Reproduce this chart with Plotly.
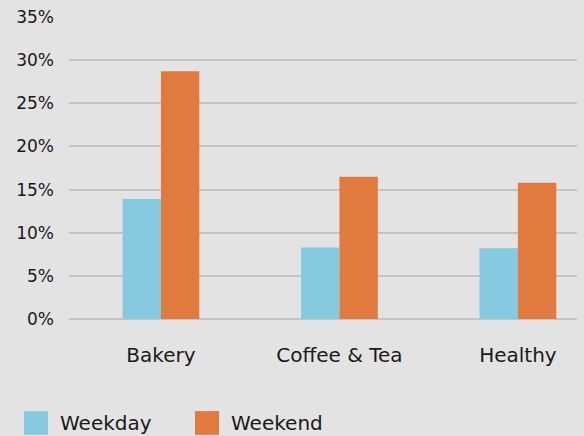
import plotly.graph_objects as go

categories = ["Bakery", "Coffee &amp; Tea", "Healthy"]
weekday = [13.9, 8.3, 8.2]
weekend = [28.7, 16.5, 15.8]
series_names = ["Weekday", "Weekend"]
series_colors = ["#86cadf", "#e07a3e"]
tick_vals = [0, 5, 10, 15, 20, 25, 30, 35]
tick_text = ["0%", "5%", "10%", "15%", "20%", "25%", "30%", "35%"]

BG = "#e3e3e3"
FONT = "DejaVu Sans"
W, H = 584, 436
ML, MR, MT, MB = 69, 7, 14, 117
PW, PH = W - ML - MR, H - MT - MB

fig = go.Figure()
fig.add_trace(go.Bar(name=series_names[0], x=categories, y=weekday,
                     marker_color=series_colors[0], marker_line_width=0))
fig.add_trace(go.Bar(name=series_names[1], x=categories, y=weekend,
                     marker_color=series_colors[1], marker_line_width=0))

fig.update_layout(
    width=W, height=H,
    paper_bgcolor=BG, plot_bgcolor=BG,
    barmode="group", bargap=0.57, bargroupgap=0,
    margin=dict(l=ML, r=MR, t=MT, b=MB),
    font=dict(family=FONT, size=17, color="#1a1a1a"),
    showlegend=False,
)
fig.update_xaxes(range=[-0.515, 2.331], showgrid=False, showline=False, ticks="",
                 tickfont=dict(size=20), ticklabelstandoff=22)
fig.update_yaxes(range=[0, 35], tickvals=tick_vals, ticktext=tick_text,
                 gridcolor="#c4c4c4", gridwidth=1.5, zeroline=True, zerolinecolor="#c4c4c4",
                 zerolinewidth=1.5, showline=False, ticks="", tickfont=dict(size=17),
                 ticklabelstandoff=14)

# legend drawn below the plot (pixel positions converted to paper coords)
def px(x):
    return (x - ML) / PW

def py(y):
    return (H - MB - y) / PH

legend_x = [24, 195]
for name, color, lx in zip(series_names, series_colors, legend_x):
    fig.add_shape(type="rect", xref="paper", yref="paper",
                  x0=px(lx), x1=px(lx + 24), y0=py(412), y1=py(436),
                  fillcolor=color, line_width=0)
    fig.add_annotation(xref="paper", yref="paper", x=px(lx + 34), y=py(424),
                       text=name, showarrow=False, xanchor="left", yanchor="middle",
                       font=dict(size=20, family=FONT, color="#1a1a1a"))

fig.write_html("out.html")
